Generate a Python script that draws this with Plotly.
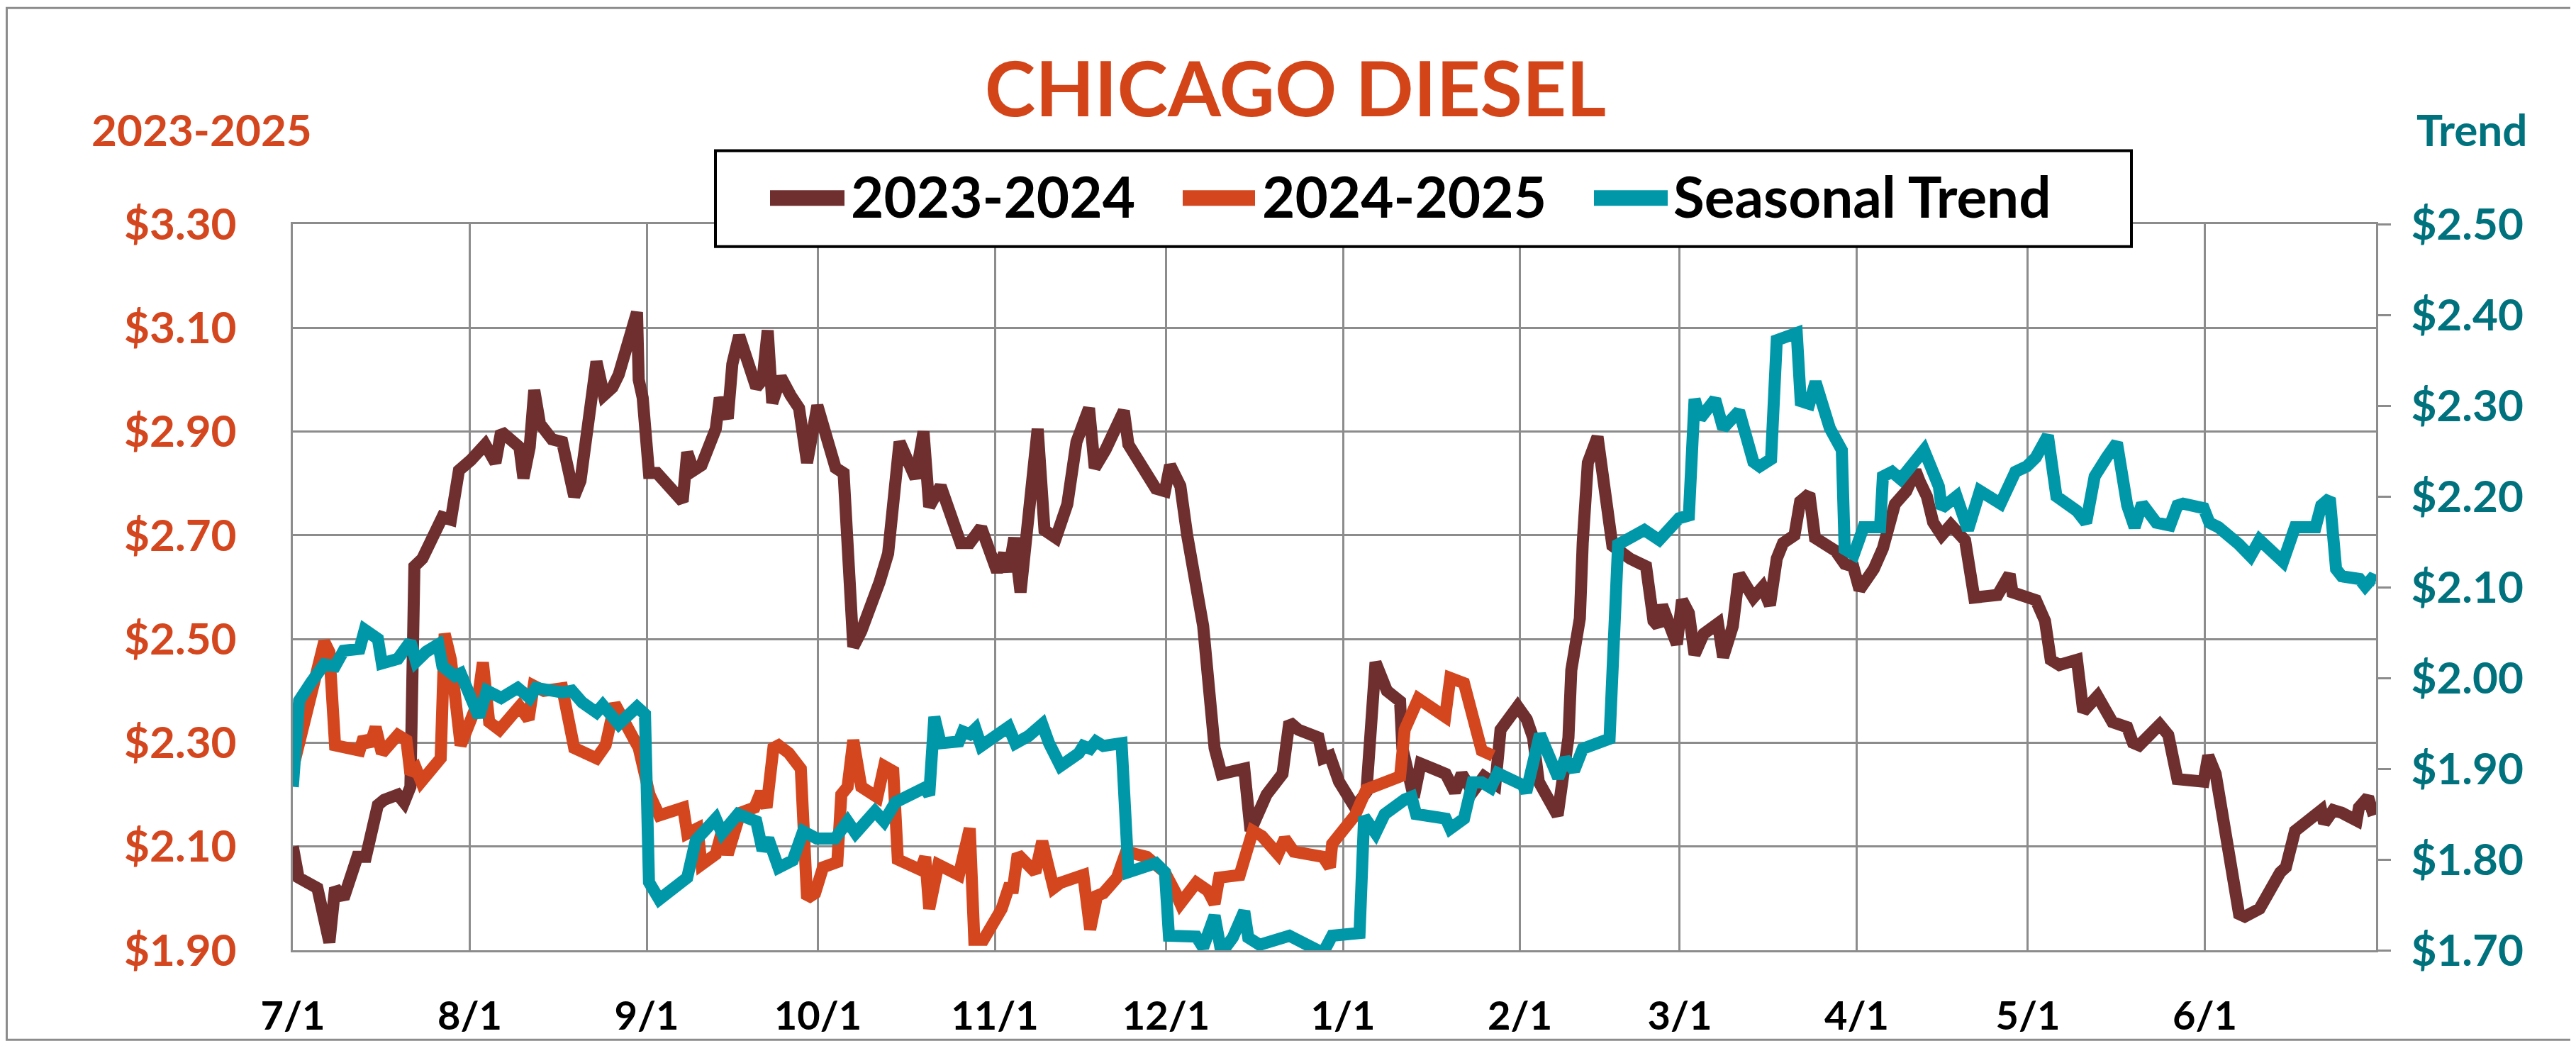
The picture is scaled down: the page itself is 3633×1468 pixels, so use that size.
import pandas as pd
import plotly.graph_objects as go

# ---------------- data (season day offset from 7/1, value) ----------------
season_start = "2024-07-01"
month_ticks = ["2024-07-01", "2024-08-01", "2024-09-01", "2024-10-01", "2024-11-01", "2024-12-01",
               "2025-01-01", "2025-02-01", "2025-03-01", "2025-04-01", "2025-05-01", "2025-06-01"]
month_labels = ["7/1", "8/1", "9/1", "10/1", "11/1", "12/1", "1/1", "2/1", "3/1", "4/1", "5/1", "6/1"]

y23_day = [0, 1, 4.3, 6.4, 7.4, 8.9, 11.3, 12.8, 14.9, 16, 18.4, 19.5, 20.6, 21.3, 22.7, 25.2, 26.2, 27.7,
           29.1, 31.2, 33.7, 35.5, 36.5, 39.7, 40.4, 41.5, 42.3, 43.3, 45.4, 47.2, 48.2, 49.3, 50.4, 51.8,
           53.2, 54.5, 56, 57.1, 60.3, 60.6, 61.3, 62.4, 63.8, 68.3, 69.1, 70.2, 71.6, 74.1, 74.8, 76.2,
           77, 78.2, 81.2, 82.3, 83.2, 84, 85.5, 87.2, 88.7, 90.1, 91.9, 95.1, 96.5, 98.2, 99.6, 102.8,
           104.3, 106.3, 109.1, 110.5, 111.5, 113.5, 115.5, 117, 118.6, 120.6, 123.4, 124.6, 125.4, 126.4,
           127.5, 130.5, 131.7, 133.7, 135.7, 137.3, 139.5, 140.5, 142.4, 145.6, 146.4, 151.2, 152.8,
           153.7, 155.5, 156.7, 159.5, 161.5, 162.7, 166.7, 167.8, 170.6, 173.4, 174.6, 176.2, 179.7,
           180.5, 181.7, 183.3, 186.1, 188.1, 189.7, 191.7, 194, 194.4, 196.4, 197.6, 202, 203.6, 204.8,
           206.7, 208.7, 210.7, 211.6, 214.6, 216.2, 217.3, 218.3, 221.6, 223.5, 224, 225.5, 226, 226.9,
           228.6, 229.7, 231.2, 234.3, 237.1, 238.4, 239.2, 239.9, 242.5, 243.4, 244.6, 245.6, 247.2,
           249.7, 250.6, 252.3, 253.4, 255.9, 257.5, 258.8, 260, 261.1, 263.1, 264.1, 265.7, 266.7,
           270.3, 271.9, 273.4, 274.5, 277, 278.6, 280.7, 282.7, 284.3, 285, 286.3, 287.4, 288.9, 290.5,
           291.5, 293, 294.6, 295.6, 298.7, 300.8, 301.3, 305.4, 307, 308, 309.5, 312.6, 313.7, 316.2,
           318.8, 321.4, 322.4, 323.5, 327.1, 328.6, 330.2, 334.8, 335.6, 336.9, 341, 342, 344.6, 348.2,
           349.2, 350.8, 355.4, 355.9, 357.5, 359, 361.6, 362, 363.6, 364.6]
y23_val = [2.10, 2.04, 2.02, 1.915, 2.02, 2.00, 2.08, 2.08, 2.18, 2.19, 2.20, 2.185, 2.215, 2.64, 2.655,
           2.72, 2.735, 2.73, 2.825, 2.845, 2.875, 2.84, 2.90, 2.87, 2.81, 2.87, 2.98, 2.915, 2.885, 2.88,
           2.83, 2.775, 2.805, 2.925, 3.035, 2.97, 2.985, 3.01, 3.13, 3.00, 2.965, 2.82, 2.82, 2.765, 2.86,
           2.825, 2.835, 2.905, 2.965, 2.925, 3.03, 3.085, 2.985, 3.00, 3.095, 2.955, 3.005, 2.97, 2.945,
           2.84, 2.95, 2.83, 2.82, 2.485, 2.515, 2.61, 2.665, 2.88, 2.81, 2.90, 2.755, 2.795, 2.735, 2.685,
           2.685, 2.715, 2.63, 2.665, 2.63, 2.695, 2.59, 2.905, 2.71, 2.695, 2.76, 2.88, 2.945, 2.83,
           2.865, 2.94, 2.875, 2.79, 2.785, 2.835, 2.795, 2.70, 2.525, 2.29, 2.24, 2.25, 2.13, 2.20, 2.24,
           2.34, 2.325, 2.31, 2.27, 2.275, 2.225, 2.175, 2.205, 2.455, 2.40, 2.38, 2.29, 2.195, 2.26,
           2.24, 2.205, 2.24, 2.205, 2.235, 2.22, 2.325, 2.37, 2.345, 2.31, 2.225, 2.16, 2.31, 2.44, 2.54,
           2.685, 2.84, 2.89, 2.795, 2.68, 2.655, 2.64, 2.535, 2.525, 2.565, 2.49, 2.575, 2.55, 2.47,
           2.51, 2.53, 2.465, 2.525, 2.625, 2.58, 2.60, 2.565, 2.655, 2.685, 2.70, 2.765, 2.78, 2.695,
           2.67, 2.645, 2.64, 2.595, 2.635, 2.675, 2.76, 2.785, 2.825, 2.805, 2.775, 2.725, 2.70, 2.72,
           2.705, 2.69, 2.58, 2.58, 2.585, 2.625, 2.59, 2.575, 2.535, 2.46, 2.45, 2.46, 2.36, 2.39, 2.34,
           2.33, 2.30, 2.295, 2.335, 2.315, 2.23, 2.225, 2.275, 2.24, 1.97, 1.965, 1.98, 2.05, 2.06,
           2.13, 2.17, 2.145, 2.17, 2.165, 2.15, 2.175, 2.195, 2.16]

y24_day = [0, 2.8, 5.5, 6.4, 7.4, 11.7, 12.4, 13.5, 14.5, 15.6, 18.4, 19.9, 20.6, 21.6, 22.5, 25.9, 26.6,
           27.7, 28.4, 29.4, 32.3, 33.3, 34.4, 36.2, 39.7, 41.3, 42.2, 44, 47.2, 49.3, 53.2, 54.8, 56.4,
           57.4, 59.9, 60.6, 62.5, 64.2, 68.4, 69.1, 70.9, 71.6, 74.1, 75.2, 76.2, 78.4, 80.9, 82, 83,
           84.2, 85.1, 86.9, 89, 90.1, 91.5, 92.9, 95.4, 96.1, 97.2, 98.2, 99.6, 102.4, 103.6, 105.2, 106,
           110, 110.8, 111.5, 113.1, 116.7, 118.6, 119.4, 121, 124.2, 125.4, 126.2, 127, 130.1, 131.3,
           133.3, 134.5, 138.5, 139.7, 140.9, 142, 144.4, 146, 149.6, 151.2, 152.8, 154.7, 155.5, 158.3,
           160.3, 161.5, 162.3, 165.9, 167, 168.2, 169.8, 172.6, 173.8, 175.4, 180.5, 181.7, 182.1,
           186.1, 188.1, 190.1, 194, 194.8, 197.2, 201.9, 202.8, 205.2, 206.7, 208.3, 210.3]
y24_val = [2.25, 2.38, 2.495, 2.475, 2.295, 2.285, 2.31, 2.295, 2.33, 2.28, 2.315, 2.305, 2.24, 2.25,
           2.225, 2.27, 2.51, 2.46, 2.365, 2.295, 2.375, 2.455, 2.34, 2.325, 2.37, 2.345, 2.41, 2.40,
           2.405, 2.29, 2.27, 2.295, 2.375, 2.355, 2.31, 2.29, 2.20, 2.16, 2.175, 2.125, 2.135, 2.065,
           2.085, 2.13, 2.085, 2.165, 2.175, 2.205, 2.175, 2.29, 2.295, 2.28, 2.25, 2.00, 2.01, 2.06,
           2.07, 2.20, 2.215, 2.305, 2.215, 2.195, 2.255, 2.245, 2.075, 2.055, 2.08, 1.98, 2.065, 2.045,
           2.135, 1.92, 1.92, 1.98, 2.02, 2.02, 2.085, 2.05, 2.11, 2.02, 2.03, 2.045, 1.94, 2.005, 2.01,
           2.04, 2.09, 2.08, 2.065, 2.05, 2.01, 1.99, 2.03, 2.015, 1.99, 2.04, 2.045, 2.09, 2.13, 2.12,
           2.085, 2.115, 2.09, 2.08, 2.06, 2.105, 2.16, 2.21, 2.22, 2.235, 2.325, 2.385, 2.35, 2.425,
           2.415, 2.345, 2.285, 2.275]

trend_day = [0, 1.1, 3.2, 5.5, 7.4, 8.9, 11.7, 12.6, 14.9, 15.6, 18.4, 20.6, 21.6, 23.4, 25.5, 26.2,
             28.4, 29.4, 32.6, 34, 36.5, 39.4, 41.5, 42.6, 47.2, 48.9, 50.7, 53.2, 54.3, 56, 57.1, 60.3,
             61.7, 62.4, 64.2, 69.1, 70.6, 74.1, 75.2, 78, 81.2, 82.3, 83.3, 85.1, 87.6, 89.4, 91.8, 95,
             97.2, 98.6, 102, 103.6, 105.6, 110.7, 111.5, 112.4, 113.5, 116.7, 117.4, 118.6, 119.6, 120.6,
             123.4, 125.4, 126.6, 128.9, 131.3, 132.5, 134.5, 137.7, 138.5, 139.7, 140.7, 142, 145.2,
             146.4, 151.2, 152.8, 153.5, 155.1, 158.3, 159.5, 161.5, 162.7, 164.7, 166.7, 167.4, 169.4,
             172.6, 174.6, 180.5, 182.1, 186.9, 187.7, 189.7, 191.3, 194.8, 196, 196.8, 202, 202.8, 205.2,
             206.7, 208.3, 209.9, 211.1, 215.5, 216.1, 218.5, 221.7, 222.9, 224.5, 226, 230.7, 232.2,
             236.8, 239.4, 242.9, 244.6, 245.6, 246.6, 249.2, 250.6, 253.4, 255.9, 257, 259, 260, 263.5,
             264.2, 265.7, 266.8, 269.3, 271.4, 271.9, 273.5, 275.2, 278.1, 278.6, 280.2, 281.7, 285.8,
             288.4, 288.9, 291.5, 293.5, 295.6, 299.2, 301.8, 303.8, 305.4, 307.5, 309, 312.6, 314.2,
             315.7, 317.8, 319.6, 321.4, 322.7, 324, 326.5, 328.9, 330.2, 331.2, 334.8, 335.8, 337.4, 341,
             343, 344.6, 348.7, 350.8, 354.4, 355.4, 356.9, 358, 359, 362.1, 363.1, 364.2, 365]
trend_val = [1.88, 1.975, 1.995, 2.015, 2.013, 2.03, 2.032, 2.053, 2.043, 2.016, 2.021, 2.04, 2.018,
             2.029, 2.037, 2.013, 2.002, 2.005, 1.957, 1.986, 1.978, 1.989, 1.978, 1.989, 1.984, 1.986,
             1.973, 1.962, 1.970, 1.96, 1.949, 1.968, 1.96, 1.775, 1.756, 1.780, 1.821, 1.845, 1.829, 1.85,
             1.842, 1.810, 1.823, 1.791, 1.799, 1.831, 1.823, 1.823, 1.842, 1.829, 1.853, 1.842, 1.863,
             1.879, 1.871, 1.957, 1.928, 1.930, 1.941, 1.938, 1.944, 1.925, 1.936, 1.946, 1.928, 1.936,
             1.949, 1.928, 1.903, 1.917, 1.925, 1.922, 1.930, 1.925, 1.928, 1.786, 1.796, 1.786, 1.716,
             1.716, 1.715, 1.703, 1.738, 1.697, 1.714, 1.743, 1.714, 1.706, 1.711, 1.716, 1.697, 1.716,
             1.719, 1.847, 1.829, 1.850, 1.866, 1.869, 1.85, 1.845, 1.834, 1.845, 1.885, 1.885, 1.879,
             1.895, 1.882, 1.874, 1.938, 1.89, 1.911, 1.898, 1.922, 1.933, 2.147, 2.163, 2.152, 2.176,
             2.179, 2.307, 2.286, 2.307, 2.275, 2.294, 2.238, 2.233, 2.241, 2.372, 2.38, 2.305, 2.302,
             2.326, 2.275, 2.251, 2.142, 2.136, 2.166, 2.166, 2.222, 2.227, 2.219, 2.251, 2.211, 2.187,
             2.20, 2.163, 2.206, 2.192, 2.227, 2.233, 2.243, 2.267, 2.20, 2.184, 2.171, 2.222, 2.243,
             2.259, 2.19, 2.166, 2.192, 2.171, 2.168, 2.19, 2.192, 2.187, 2.171, 2.166, 2.147, 2.134,
             2.152, 2.128, 2.166, 2.166, 2.19, 2.198, 2.12, 2.112, 2.109, 2.101, 2.109, 2.107]

left_ticks = [1.90, 2.10, 2.30, 2.50, 2.70, 2.90, 3.10, 3.30]
left_labels = ["$1.90", "$2.10", "$2.30", "$2.50", "$2.70", "$2.90", "$3.10", "$3.30"]
right_ticks = [1.70, 1.80, 1.90, 2.00, 2.10, 2.20, 2.30, 2.40, 2.50]
right_labels = ["$1.70", "$1.80", "$1.90", "$2.00", "$2.10", "$2.20", "$2.30", "$2.40", "$2.50"]

# ---------------- styling ----------------
BROWN = "#6F2F2F"
ORANGE = "#D4461E"
TEAL = "#0098A9"
TEAL_TXT = "#00727E"
GRID = "#8C8C8C"
FONT = "Lato"
LW = 17

W, H = 3633, 1468
L, R, T, B = 405, 3343, 308, 1338


def px(x):
    return (x - L) / (R - L)


def py(y):
    return (B - y) / (B - T)


base = pd.Timestamp(season_start)


def to_dates(days):
    return [base + pd.Timedelta(days=d) for d in days]


def bold(labels):
    return ["<b>" + s + "</b>" for s in labels]


fig = go.Figure()
fig.add_trace(go.Scatter(x=to_dates(y23_day), y=y23_val, mode="lines", name="2023-2024",
                         line=dict(color=BROWN, width=LW), showlegend=False))
fig.add_trace(go.Scatter(x=to_dates(y24_day), y=y24_val, mode="lines", name="2024-2025",
                         line=dict(color=ORANGE, width=LW), showlegend=False))
fig.add_trace(go.Scatter(x=to_dates(trend_day), y=trend_val, mode="lines", name="Seasonal Trend",
                         line=dict(color=TEAL, width=LW), yaxis="y2", showlegend=False))

fig.update_layout(
    width=W, height=H,
    paper_bgcolor="white", plot_bgcolor="white",
    margin=dict(l=L, r=W - R, t=T, b=H - B, pad=0),
    font=dict(family=FONT),
    title=dict(text="<b>CHICAGO DIESEL</b>", x=1819 / W, xref="container", xanchor="center",
               y=1 - 118 / H, yref="container", yanchor="middle",
               font=dict(family=FONT, size=108, color="#D34519")),
    xaxis=dict(type="date", range=[base, base + pd.Timedelta(days=365)],
               tickvals=month_ticks, ticktext=bold(month_labels),
               showgrid=True, gridcolor=GRID, gridwidth=3,
               showline=True, linecolor=GRID, linewidth=3, mirror=True,
               ticks="", zeroline=False, ticklabelstandoff=42,
               tickfont=dict(family=FONT, size=56, color="black")),
    yaxis=dict(range=[1.90, 3.30], tickvals=left_ticks, ticktext=bold(left_labels),
               showgrid=True, gridcolor=GRID, gridwidth=3,
               showline=True, linecolor=GRID, linewidth=3, mirror=True,
               ticks="", zeroline=False, ticklabelstandoff=64,
               tickfont=dict(family=FONT, size=62, color=ORANGE)),
    yaxis2=dict(range=[1.70, 2.50], tickvals=right_ticks, ticktext=bold(right_labels),
                overlaying="y", side="right", showgrid=False, zeroline=False,
                ticks="outside", ticklen=20, tickwidth=3, tickcolor=GRID, ticklabelstandoff=16,
                tickfont=dict(family=FONT, size=62, color=TEAL_TXT)),
)

shapes = [
    # outer chart border
    dict(type="rect", xref="paper", yref="paper", x0=px(1.5), x1=px(W - 3), y0=py(H - 3), y1=py(1.5),
         line=dict(color=GRID, width=3), fillcolor="rgba(0,0,0,0)", layer="above"),
    # legend box
    dict(type="rect", xref="paper", yref="paper", x0=px(1001), x1=px(2998), y0=py(340), y1=py(204),
         line=dict(color="black", width=4), fillcolor="white", layer="above"),
]
legend_items = [("2023-2024", BROWN, 1078, 1183, 1190),
                ("2024-2025", ORANGE, 1660, 1762, 1770),
                ("Seasonal Trend", TEAL, 2240, 2344, 2350)]
annotations = [
    dict(text="<b>2023-2025</b>", x=px(276), y=py(173), xref="paper", yref="paper", showarrow=False,
         xanchor="center", yanchor="middle", font=dict(family=FONT, size=62, color=ORANGE)),
    dict(text="<b>Trend</b>", x=px(3478), y=py(173), xref="paper", yref="paper", showarrow=False,
         xanchor="center", yanchor="middle", font=dict(family=FONT, size=62, color=TEAL_TXT)),
]
for name, col, x0, x1, tx in legend_items:
    shapes.append(dict(type="line", xref="paper", yref="paper", x0=px(x0), x1=px(x1), y0=py(271), y1=py(271),
                       line=dict(color=col, width=22), layer="above"))
    annotations.append(dict(text="<b>" + name + "</b>", x=px(tx), y=py(268), xref="paper", yref="paper",
                            showarrow=False, xanchor="left", yanchor="middle",
                            font=dict(family=FONT, size=80, color="black")))

fig.update_layout(shapes=shapes, annotations=annotations)
fig.write_html("out.html")
